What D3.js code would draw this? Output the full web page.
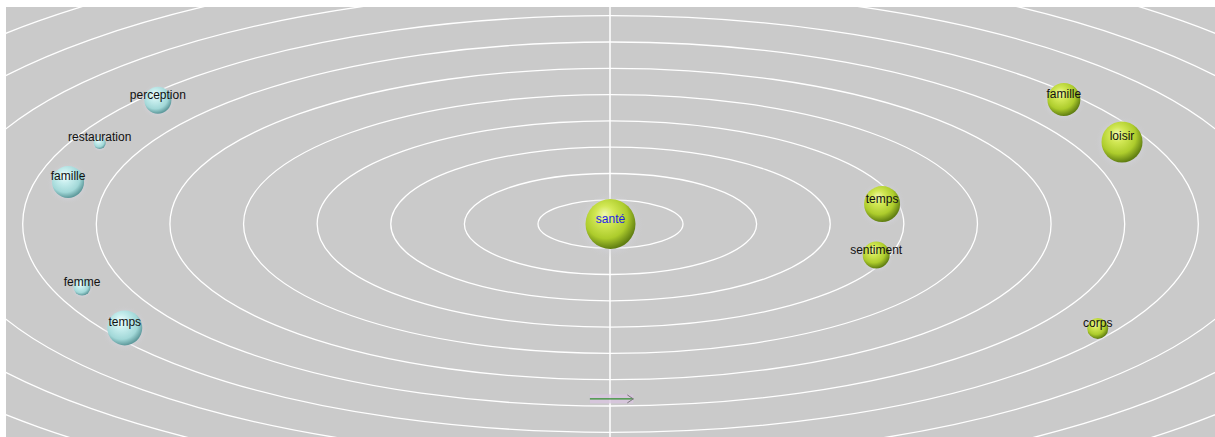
<!DOCTYPE html>
<html><head><meta charset="utf-8">
<script src="https://cdn.jsdelivr.net/npm/d3@7"></script>
<style>html,body{margin:0;padding:0;background:#fff;}svg{display:block;}</style>
</head><body>
<svg id="chart" width="1215" height="437"></svg>
<script>
// ---- data (units: ring spacing = 1) ----
const labels  = ["santé","perception","restauration","famille","femme","temps","temps","sentiment","famille","loisir","corps"];
const groups  = ["centre","left","left","left","left","left","right","right","right","right","right"];
const xValues = [0, -6.15, -6.94, -7.37, -7.18, -6.60, 3.69, 3.61, 6.16, 6.95, 6.62];
const yValues = [0, 4.71, 3.08, 1.60, -2.40, -3.95, 0.76, -1.18, 4.73, 3.12, -3.97];
const sizes   = [25, 13.5, 6, 16, 8.5, 17.5, 18, 13.5, 16.5, 20.5, 10.5];
const rings   = d3.range(1, 15);
const arrowX  = [-0.28, 0.31];
const arrowY  = -6.65;

const W = 1215, H = 437;
const plot = {x0: 6, y0: 7, x1: 1215, y1: 437};
const svg = d3.select("#chart");

// scales
const x = d3.scaleLinear().domain([0, 1]).range([610.5, 684.1]);
const y = d3.scaleLinear().domain([0, 1]).range([224, 197.7]);
const rxS = d3.scaleLinear().domain([1, 8]).range([72.5, 587.8]);
const ryS = d3.scaleLinear().domain([1, 8]).range([24.2, 208.3]);
const rS = d3.scaleLinear().domain([0, 25]).range([0, 25]);

const defs = svg.append("defs");
defs.append("clipPath").attr("id", "clip").append("rect")
  .attr("x", plot.x0).attr("y", plot.y0).attr("width", plot.x1 - plot.x0).attr("height", plot.y1 - plot.y0);

function grad(id, stops) {
  const g = defs.append("radialGradient").attr("id", id)
    .attr("cx", "42%").attr("cy", "38%").attr("r", "62%").attr("fx", "38%").attr("fy", "30%");
  stops.forEach(s => g.append("stop").attr("offset", s[0]).attr("stop-color", s[1]));
}
grad("gGreen", [["0%", "#f0f8b0"], ["30%", "#d2e855"], ["70%", "#adcc2c"], ["100%", "#607e12"]]);
grad("gCyan", [["0%", "#f2ffff"], ["35%", "#c6eded"], ["75%", "#a2d8d8"], ["100%", "#5f9a9c"]]);
const halo = defs.append("radialGradient").attr("id", "halo");
halo.append("stop").attr("offset", "55%").attr("stop-color", "#dcdcec").attr("stop-opacity", 0.7);
halo.append("stop").attr("offset", "100%").attr("stop-color", "#cacaca").attr("stop-opacity", 0);

// background
svg.append("rect").attr("x", plot.x0).attr("y", plot.y0)
  .attr("width", plot.x1 - plot.x0).attr("height", plot.y1 - plot.y0).attr("fill", "#cacaca");

const g = svg.append("g").attr("clip-path", "url(#clip)");

// rings
g.selectAll("ellipse.ring").data(rings).join("ellipse")
  .attr("class", "ring")
  .attr("cx", x(0)).attr("cy", y(0))
  .attr("rx", d => rxS(d)).attr("ry", d => ryS(d))
  .attr("fill", "none").attr("stroke", "#ffffff").attr("stroke-width", 1.3);

// vertical axis
g.append("line").attr("x1", x(0) - 0.5).attr("x2", x(0) - 0.5)
  .attr("y1", plot.y0).attr("y2", plot.y1)
  .attr("stroke", "#ffffff").attr("stroke-width", 1.5);

// arrow
g.append("rect").attr("x", x(arrowX[0])).attr("y", y(arrowY) - 4.5)
  .attr("width", x(arrowX[1]) - x(arrowX[0])).attr("height", 9)
  .attr("fill", "#d8c4de").attr("opacity", 0.8);
g.append("line").attr("x1", x(arrowX[0])).attr("x2", x(arrowX[1]))
  .attr("y1", y(arrowY)).attr("y2", y(arrowY))
  .attr("stroke", "#2f8f2f").attr("stroke-width", 1.3);
g.append("path")
  .attr("d", `M${x(arrowX[1]) - 6},${y(arrowY) - 4} L${x(arrowX[1])},${y(arrowY)} L${x(arrowX[1]) - 6},${y(arrowY) + 4}`)
  .attr("fill", "none").attr("stroke", "#7a7a7a").attr("stroke-width", 1);

// nodes
const nodes = labels.map((l, i) => ({label: l, group: groups[i], x: xValues[i], y: yValues[i], r: sizes[i]}));

g.selectAll("circle.halo").data(nodes).join("circle")
  .attr("class", "halo")
  .attr("cx", d => x(d.x)).attr("cy", d => y(d.y) + 1)
  .attr("r", d => rS(d.r) * 1.35).attr("fill", "url(#halo)");

g.selectAll("circle.node").data(nodes).join("circle")
  .attr("class", "node")
  .attr("cx", d => x(d.x)).attr("cy", d => y(d.y))
  .attr("r", d => rS(d.r))
  .attr("fill", d => d.group === "left" ? "url(#gCyan)" : "url(#gGreen)");

g.selectAll("text.lbl").data(nodes).join("text")
  .attr("class", "lbl")
  .attr("x", d => x(d.x)).attr("y", d => y(d.y) - 1.5)
  .attr("text-anchor", "middle")
  .attr("font-family", "Liberation Sans, Arial, sans-serif")
  .attr("font-size", 12)
  .attr("fill", d => d.group === "centre" ? "#1f1fe6" : "#111111")
  .text(d => d.label);
</script>
</body></html>
